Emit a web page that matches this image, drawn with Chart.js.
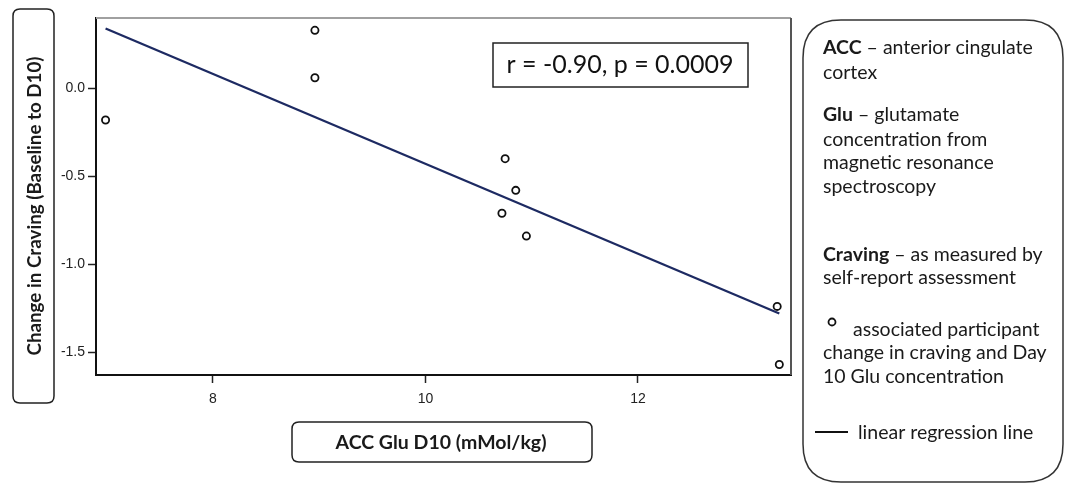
<!DOCTYPE html>
<html>
<head>
<meta charset="utf-8">
<script src="https://cdn.jsdelivr.net/npm/chart.js@4.4.1/dist/chart.umd.min.js"></script>
<style>
  html, body { margin: 0; padding: 0; background: #fff; }
  #wrap { width: 1067px; height: 485px; }
</style>
</head>
<body>
<div id="wrap"><canvas id="craving-chart" width="1067" height="485"></canvas></div>
<script>
// Glu vs change in craving

const gluD10 = [6.99, 8.96, 8.96, 10.75, 10.85, 10.72, 10.95, 13.31, 13.33];
const cravingChange = [-0.18, 0.33, 0.06, -0.40, -0.58, -0.71, -0.84, -1.24, -1.57];

// regression line end points
const fitX = [6.99, 13.33];
const fitY = [0.34, -1.28];

const xTicks = [8, 10, 12];
const yTicks = [0.0, -0.5, -1.0, -1.5];

const statsText = 'r = -0.90, p = 0.0009';
const xTitle = 'ACC Glu D10 (mMol/kg)';
const yTitle = 'Change in Craving (Baseline to D10)';

const FONT = 'Lato, "Open Sans", sans-serif';
const NAVY = '#1d2a62';

function roundRect(ctx, x, y, w, h, r) {
    ctx.beginPath();
    ctx.moveTo(x + r, y);
    ctx.lineTo(x + w - r, y);
    ctx.quadraticCurveTo(x + w, y, x + w, y + r);
    ctx.lineTo(x + w, y + h - r);
    ctx.quadraticCurveTo(x + w, y + h, x + w - r, y + h);
    ctx.lineTo(x + r, y + h);
    ctx.quadraticCurveTo(x, y + h, x, y + h - r);
    ctx.lineTo(x, y + r);
    ctx.quadraticCurveTo(x, y, x + r, y);
    ctx.closePath();
}

// draw a line made of bold / normal pieces
function drawRuns(ctx, runs, x, y, size) {
    let cx = x;
    runs.forEach(run => {
        ctx.font = (run.bold ? 'bold ' : '') + size + 'px ' + FONT;
        ctx.fillText(run.text, cx, y);
        cx += ctx.measureText(run.text).width;
    });
}

const legendLines = [
    { y: 48, runs: [{ text: 'ACC', bold: true }, { text: ' \u2013 anterior cingulate' }] },
    { y: 73, runs: [{ text: 'cortex' }] },
    { y: 115, runs: [{ text: 'Glu', bold: true }, { text: ' \u2013 glutamate' }] },
    { y: 140, runs: [{ text: 'concentration from' }] },
    { y: 163, runs: [{ text: 'magnetic resonance' }] },
    { y: 187, runs: [{ text: 'spectroscopy' }] },
    { y: 255, runs: [{ text: 'Craving', bold: true }, { text: ' \u2013 as measured by' }] },
    { y: 278, runs: [{ text: 'self-report assessment' }] },
    { y: 330, x: 853, runs: [{ text: 'associated participant' }] },
    { y: 353, runs: [{ text: 'change in craving and Day' }] },
    { y: 377, runs: [{ text: '10 Glu concentration' }] },
    { y: 433, x: 858, runs: [{ text: 'linear regression line' }] }
];

const decorPlugin = {
    id: 'decor',
    beforeDraw(chart) {
        const ctx = chart.ctx;
        ctx.save();
        ctx.fillStyle = '#fff';
        ctx.fillRect(0, 0, chart.width, chart.height);
        ctx.restore();
    },
    afterDraw(chart) {
        const ctx = chart.ctx;
        const a = chart.chartArea;
        ctx.save();

        // top and right frame lines
        ctx.lineWidth = 2;
        ctx.strokeStyle = '#a0a0a0';
        ctx.beginPath();
        ctx.moveTo(a.left, a.top);
        ctx.lineTo(a.right, a.top);
        ctx.stroke();
        ctx.strokeStyle = '#555';
        ctx.beginPath();
        ctx.moveTo(a.right, a.top);
        ctx.lineTo(a.right, a.bottom);
        ctx.stroke();

        // stats box
        ctx.lineWidth = 1.5;
        ctx.strokeStyle = '#222';
        ctx.strokeRect(493, 43, 255, 44);
        ctx.fillStyle = '#111';
        ctx.font = '25px ' + FONT;
        ctx.textBaseline = 'middle';
        ctx.textAlign = 'center';
        ctx.fillText(statsText, 620, 65);

        // y title box
        ctx.lineWidth = 1.5;
        ctx.strokeStyle = '#222';
        roundRect(ctx, 13, 9, 41, 394, 7);
        ctx.stroke();
        ctx.save();
        ctx.translate(35, 206);
        ctx.rotate(-Math.PI / 2);
        ctx.font = 'bold 18.8px ' + FONT;
        ctx.fillStyle = '#1a1a1a';
        ctx.fillText(yTitle, 0, 0);
        ctx.restore();

        // x title box
        roundRect(ctx, 292, 422, 300, 40, 7);
        ctx.stroke();
        ctx.font = 'bold 19.5px ' + FONT;
        ctx.fillStyle = '#1a1a1a';
        ctx.fillText(xTitle, 441, 443);

        // legend box
        ctx.strokeStyle = '#333';
        roundRect(ctx, 803, 20, 260, 462, 38);
        ctx.stroke();

        ctx.textAlign = 'left';
        ctx.fillStyle = '#1a1a1a';
        legendLines.forEach(line => {
            drawRuns(ctx, line.runs, line.x || 823, line.y, 19.5);
        });

        // legend markers
        ctx.lineWidth = 1.8;
        ctx.strokeStyle = '#111';
        ctx.beginPath();
        ctx.arc(832, 322, 3.5, 0, Math.PI * 2);
        ctx.stroke();
        ctx.lineWidth = 2;
        ctx.beginPath();
        ctx.moveTo(815, 432);
        ctx.lineTo(848, 432);
        ctx.stroke();

        ctx.restore();
    }
};

const ctx = document.getElementById('craving-chart').getContext('2d');

new Chart(ctx, {
    type: 'scatter',
    data: {
        datasets: [
            {
                label: 'Participants',
                data: gluD10.map((x, i) => ({ x: x, y: cravingChange[i] })),
                pointStyle: 'circle',
                pointRadius: 3.6,
                borderWidth: 1.8,
                borderColor: '#111',
                backgroundColor: 'rgba(255,255,255,0)',
                order: 1
            },
            {
                type: 'line',
                label: 'Linear regression',
                data: fitX.map((x, i) => ({ x: x, y: fitY[i] })),
                borderColor: NAVY,
                borderWidth: 2.3,
                pointRadius: 0,
                fill: false,
                order: 2
            }
        ]
    },
    options: {
        responsive: false,
        animation: false,
        layout: {
            padding: { left: 0, right: 276, top: 18, bottom: 80 }
        },
        plugins: {
            legend: { display: false },
            tooltip: { enabled: false }
        },
        scales: {
            x: {
                type: 'linear',
                min: 6.9,
                max: 13.44,
                afterBuildTicks: scale => { scale.ticks = xTicks.map(v => ({ value: v })); },
                afterFit: scale => { scale.height = 30; },
                border: { color: '#111', width: 2 },
                grid: { drawOnChartArea: false, drawTicks: true, tickLength: 8, tickColor: '#222', tickWidth: 1.5 },
                ticks: {
                    padding: 8,
                    color: '#222',
                    font: { family: '"Liberation Sans", Arial, sans-serif', size: 14 },
                    callback: value => String(value)
                }
            },
            y: {
                type: 'linear',
                min: -1.63,
                max: 0.40,
                afterBuildTicks: scale => { scale.ticks = yTicks.map(v => ({ value: v })); },
                afterFit: scale => { scale.width = 96; },
                border: { color: '#111', width: 2 },
                grid: { drawOnChartArea: false, drawTicks: true, tickLength: 8, tickColor: '#222', tickWidth: 1.5 },
                ticks: {
                    padding: 3,
                    color: '#222',
                    font: { family: '"Liberation Sans", Arial, sans-serif', size: 14 },
                    callback: value => value.toFixed(1)
                }
            }
        }
    },
    plugins: [decorPlugin]
});
</script>
</body>
</html>
